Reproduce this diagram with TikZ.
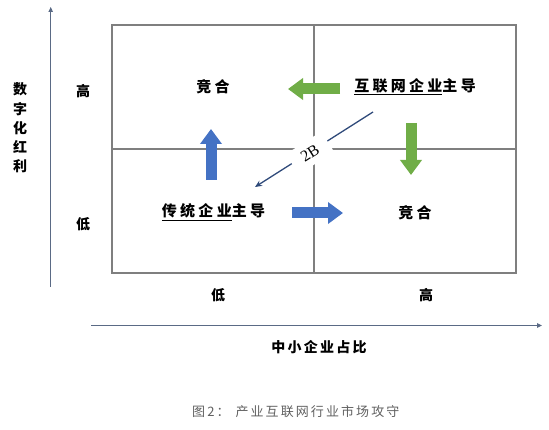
\documentclass[tikz,border=0pt]{standalone}
\usepackage{fontspec}
\setmainfont{Liberation Serif}
\newfontfamily\cjk{Noto Sans CJK SC}[LetterSpace=22]
\newfontfamily\cjkax{Noto Sans CJK SC}[LetterSpace=16]
\newfontfamily\cjkcap{Noto Sans CJK SC}[LetterSpace=16]
\usetikzlibrary{arrows.meta}
\definecolor{gridgray}{HTML}{7F7F7F}
\definecolor{axiscol}{HTML}{5A6A85}
\definecolor{navy}{HTML}{2F4A7A}
\definecolor{ggreen}{HTML}{70AD47}
\definecolor{gblue}{HTML}{4472C4}
\definecolor{capgray}{HTML}{606060}
\tikzset{
  gridline/.style={draw=gridgray, line width=1.3pt},
  axisline/.style={draw=axiscol, line width=1pt, -{Triangle[length=5pt,width=4.5pt]}},
  blockarrow/.style={line width=11pt, -{Triangle[length=15pt,width=21pt]}},
  celltext/.style={font=\fontsize{15}{15}\selectfont\cjk\bfseries, inner sep=0pt},
  axtext/.style={font=\fontsize{14}{14}\selectfont\cjkax\bfseries, inner sep=0pt},
}
\begin{document}
\begin{tikzpicture}[x=1pt,y=-1pt]
\useasboundingbox (0,0) rectangle (549,430);
% grid
\draw[gridline] (112,25) rectangle (516,273);
\draw[gridline] (314,25) -- (314,273);
\draw[gridline] (112,149) -- (516,149);
% axes
\coordinate (ys) at (50.7,287);
\coordinate (ye) at (50.7,7);
\coordinate (xs) at (91,325.5);
\coordinate (xe) at (542,325.5);
\draw[axisline] (ys) -- (ye);
\draw[axisline] (xs) -- (xe);
% axis labels
\node[axtext, align=center, font=\fontsize{14}{19.3}\selectfont\cjkax\bfseries] (ylab) at (20,128) {数\\字\\化\\红\\利};
\node[axtext] (yhi) at (83,91) {高};
\node[axtext] (ylo) at (83,224) {低};
\node[axtext] (xlo) at (218,295) {低};
\node[axtext] (xhi) at (426,295) {高};
\node[axtext] (xlab) at (319,347) {中小企业占比};
% cell labels
\node[celltext] (c1) at (213,87) {竞合};
\node[celltext] (c2) at (415,87) {\underline{互联网企业}主导};
\node[celltext] (c3) at (213.5,212) {\underline{传统企业}主导};
\node[celltext] (c4) at (415,213) {竞合};
% block arrows
\coordinate (g1s) at (340,89);
\coordinate (g1e) at (288,89);
\draw[blockarrow, ggreen] (g1s) -- (g1e);
\coordinate (g2s) at (411,123);
\coordinate (g2e) at (411,175);
\draw[blockarrow, ggreen] (g2s) -- (g2e);
\coordinate (b1s) at (211,180);
\coordinate (b1e) at (211,129);
\draw[blockarrow, gblue] (b1s) -- (b1e);
\coordinate (b2s) at (292,213);
\coordinate (b2e) at (343,213);
\draw[blockarrow, gblue] (b2s) -- (b2e);
% 2B line
\coordinate (ts) at (373,112);
\coordinate (te) at (255,187);
\draw[navy, line width=1.3pt, -{Stealth[length=7pt,width=6pt]}] (ts) -- (te);
\node[fill=white, rotate=32.4, minimum width=42pt, minimum height=24pt, inner sep=0pt,
      font=\fontsize{16}{16}\selectfont] (tb) at (310,153) {2B};
% caption
\node[font=\fontsize{13}{13}\selectfont\cjkcap, text=capgray, anchor=west, inner sep=0pt] (cap) at (192,412) {图2：\hspace{6pt}产业互联网行业市场攻守};
\end{tikzpicture}
\end{document}
